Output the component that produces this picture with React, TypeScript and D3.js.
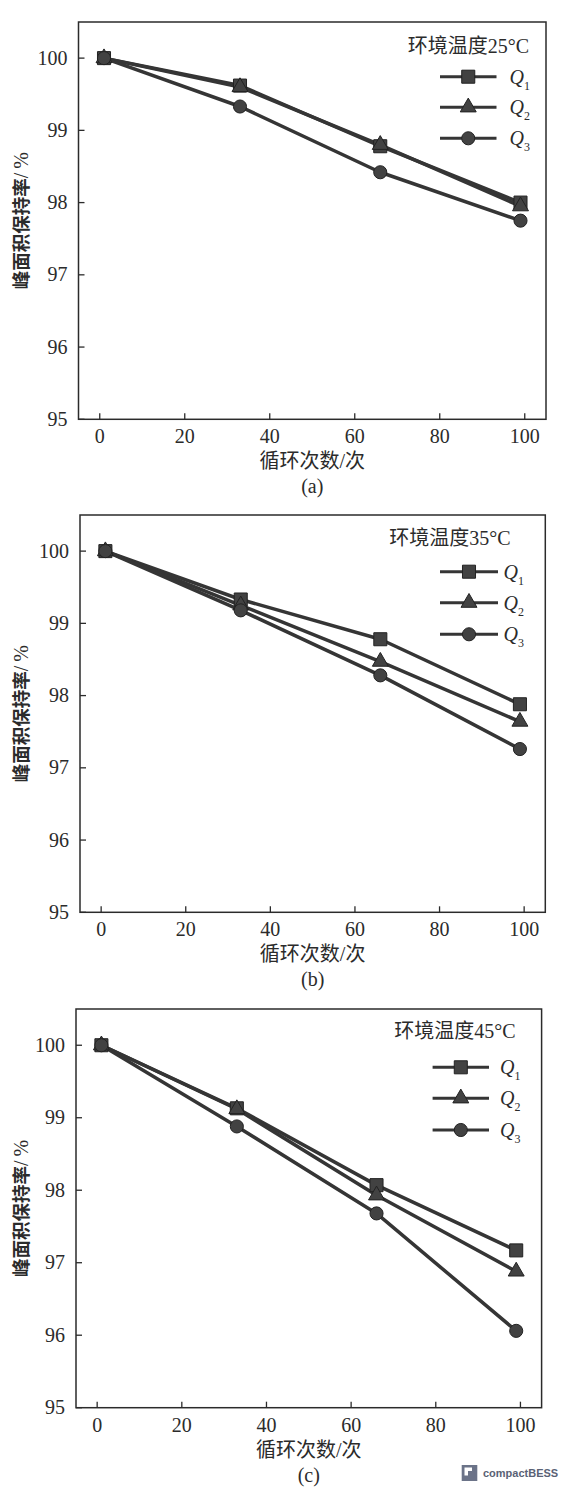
import * as d3 from "d3";

const cycles = [1, 33, 66, 99];
const seriesNames = ["Q1", "Q2", "Q3"];
const xTicks = [0, 20, 40, 60, 80, 100];
const yTicks = [95, 96, 97, 98, 99, 100];
const panelTags = ["(a)", "(b)", "(c)"];
const temperatures = ["环境温度25°C", "环境温度35°C", "环境温度45°C"];

const q1At25 = [100, 99.62, 98.78, 98.0];
const q2At25 = [100, 99.6, 98.8, 97.95];
const q3At25 = [100, 99.33, 98.42, 97.75];

const q1At35 = [100, 99.33, 98.78, 97.88];
const q2At35 = [100, 99.25, 98.47, 97.64];
const q3At35 = [100, 99.18, 98.28, 97.26];

const q1At45 = [100, 99.13, 98.07, 97.17];
const q2At45 = [100, 99.12, 97.93, 96.88];
const q3At45 = [100, 98.88, 97.68, 96.06];

const panelData = [
  [q1At25, q2At25, q3At25],
  [q1At35, q2At35, q3At35],
  [q1At45, q2At45, q3At45],
];

// frame boxes and legend placement, per panel
const layouts = [
  { left: 78.5, right: 546, top: 22, bottom: 419.3, titleX: 529, titleY: 45.5, lineX0: 440, lineX1: 496.5, qX: 509.5, rows: [76.7, 107.3, 138.3] },
  { left: 80, right: 545.3, top: 515, bottom: 912.3, titleX: 510.7, titleY: 538, lineX0: 440, lineX1: 498, qX: 503.5, rows: [571.7, 602.7, 634.3] },
  { left: 76, right: 541.6, top: 1009, bottom: 1407.7, titleX: 515.5, titleY: 1030.7, lineX0: 432.6, lineX1: 489, qX: 500, rows: [1067.3, 1098.3, 1130] },
];

const SERIF = "'Liberation Serif', 'Noto Sans CJK SC', serif";
const INK = "#2b2b2b";
const LINE = "#353535";
const MARK = "#424242";

const symbolTypes = [d3.symbolSquare, d3.symbolTriangle, d3.symbolCircle];
const symbolSizes = [170, 110, 135];

function Marker({ i, x, y }: { i: number; x: number; y: number }) {
  const d = d3.symbol().type(symbolTypes[i]).size(symbolSizes[i])() ?? "";
  return <path d={d} transform={`translate(${x},${y})`} fill={MARK} stroke="#222" strokeWidth={1} />;
}

function Panel({ idx }: { idx: number }) {
  const L = layouts[idx];
  const x = d3.scaleLinear().domain([-5, 105]).range([L.left, L.right]);
  const y = d3.scaleLinear().domain([95, 100.5]).range([L.bottom, L.top]);
  const line = d3
    .line<number>()
    .x((_, i) => x(cycles[i]))
    .y((d) => y(d));
  const series = panelData[idx];
  const midX = (L.left + L.right) / 2;
  const midY = (L.top + L.bottom) / 2 - 2;

  return (
    <g>
      <rect x={L.left} y={L.top} width={L.right - L.left} height={L.bottom - L.top} fill="none" stroke={INK} strokeWidth={1.5} />
      {xTicks.map((t) => (
        <g key={`x${t}`}>
          <line x1={x(t)} x2={x(t)} y1={L.bottom} y2={L.bottom - 6} stroke={INK} strokeWidth={1.3} />
          <text x={x(t)} y={L.bottom + 24} textAnchor="middle" fontFamily={SERIF} fontSize={20} fill={INK}>
            {t}
          </text>
        </g>
      ))}
      {yTicks.map((t) => (
        <g key={`y${t}`}>
          <line x1={L.left} x2={L.left + 6} y1={y(t)} y2={y(t)} stroke={INK} strokeWidth={1.3} />
          <text x={L.left - 11} y={y(t)} dy="0.33em" textAnchor="end" fontFamily={SERIF} fontSize={20} fill={INK}>
            {t}
          </text>
        </g>
      ))}

      {series.map((vals, i) => (
        <path key={`l${i}`} d={line(vals) ?? ""} fill="none" stroke={LINE} strokeWidth={3.5} strokeLinejoin="round" />
      ))}
      {series.map((vals, i) =>
        vals.map((v, j) => <Marker key={`m${i}-${j}`} i={i} x={x(cycles[j])} y={y(v)} />)
      )}

      <text x={L.titleX} y={L.titleY} dy="0.35em" textAnchor="end" fontFamily={SERIF} fontSize={20} fill={INK}>
        {temperatures[idx]}
      </text>
      {seriesNames.map((name, i) => (
        <g key={name}>
          <line x1={L.lineX0} x2={L.lineX1} y1={L.rows[i]} y2={L.rows[i]} stroke={LINE} strokeWidth={3} />
          <Marker i={i} x={(L.lineX0 + L.lineX1) / 2} y={L.rows[i]} />
          <text x={L.qX} y={L.rows[i]} dy="0.35em" fontFamily={SERIF} fontSize={20} fill={INK}>
            <tspan fontStyle="italic">{name[0]}</tspan>
            <tspan fontSize={12} dy={6}>{name.slice(1)}</tspan>
          </text>
        </g>
      ))}

      <text x={midX} y={L.bottom + 42} dy="0.35em" textAnchor="middle" fontFamily={SERIF} fontSize={20} fill={INK}>
        循环次数/次
      </text>
      <text x={midX} y={L.bottom + 67} dy="0.35em" textAnchor="middle" fontFamily={SERIF} fontSize={20} fill={INK}>
        {panelTags[idx]}
      </text>
      <text
        transform={`translate(22,${midY}) rotate(-90)`}
        dy="0.35em"
        textAnchor="middle"
        fontFamily={SERIF}
        fontSize={18.5}
        fontWeight={600}
        fill={INK}
      >
        峰面积保持率<tspan fontWeight={400} fontSize={20} letterSpacing={4}>/%</tspan>
      </text>
    </g>
  );
}

export default function App() {
  return (
    <svg width={570} height={1497} style={{ position: "absolute", left: 0, top: 0, background: "#fff" }}>
      <rect width={570} height={1497} fill="#fff" />
      {layouts.map((_, i) => (
        <Panel key={i} idx={i} />
      ))}
      <g>
        <rect x={461.7} y={1465} width={15.6} height={16} fill="#6b7388" />
        <rect x={464.5} y={1467.5} width={7.5} height={8} fill="#fff" />
        <rect x={468} y={1471} width={6.5} height={7} fill="#6b7388" />
        <text x={483} y={1473} dy="0.35em" fontFamily="'Liberation Sans', Arial, sans-serif" fontWeight={700} fontSize={11} fill="#5a6275">
          compactBESS
        </text>
      </g>
    </svg>
  );
}
